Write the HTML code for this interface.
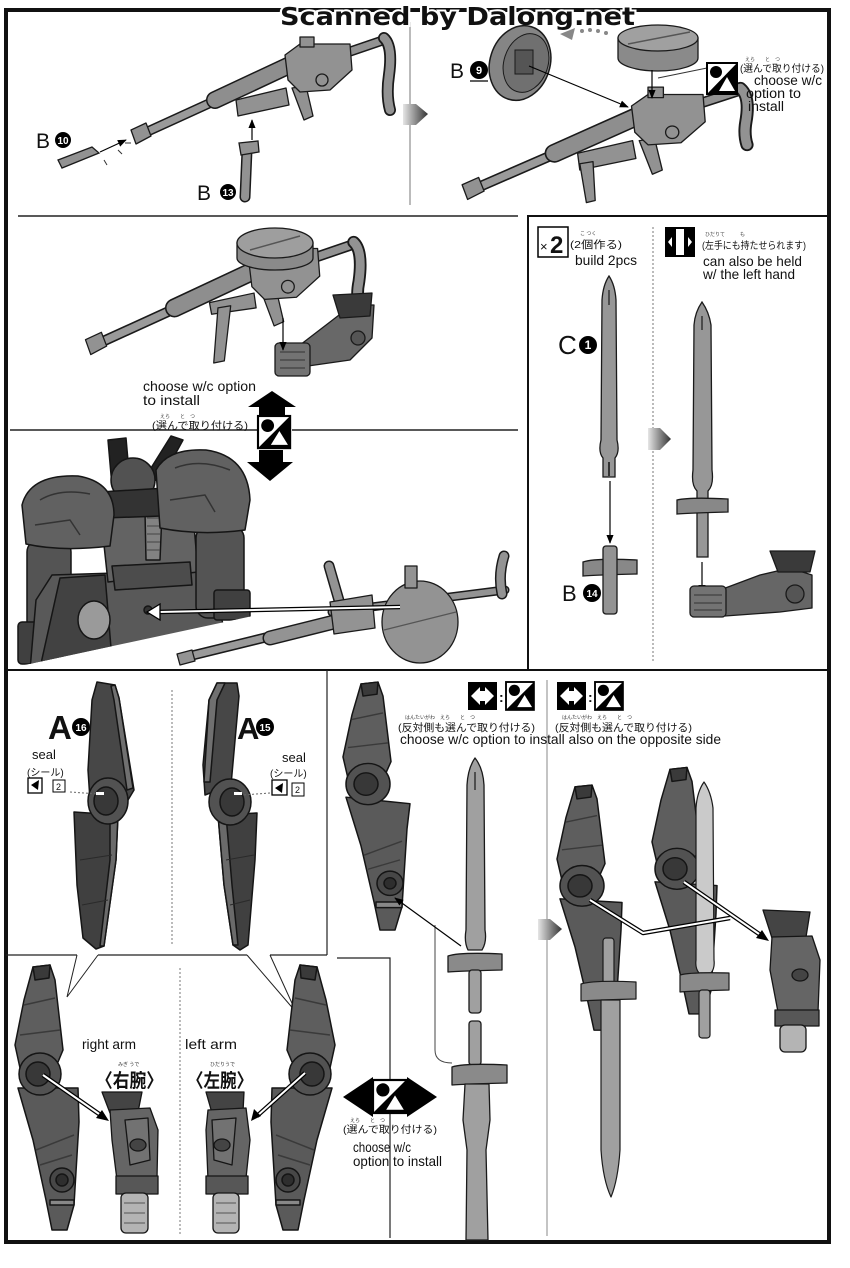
<!DOCTYPE html>
<html><head><meta charset="utf-8"><style>
html,body{margin:0;padding:0;background:#fff;}
svg{display:block;}
text{font-family:"Liberation Sans","Noto Sans CJK JP",sans-serif;fill:#111;}
</style></head><body>
<svg width="850" height="1268" viewBox="0 0 850 1268" xmlns="http://www.w3.org/2000/svg">
<defs>
<linearGradient id="ga" x1="0" x2="1" y1="0" y2="0"><stop offset="0" stop-color="#e6e6e6"/><stop offset="1" stop-color="#333"/></linearGradient>
<marker id="ah" viewBox="0 0 10 10" refX="9" refY="5" markerUnits="userSpaceOnUse" markerWidth="9" markerHeight="9" orient="auto"><path d="M0,1 L10,5 L0,9 Z" fill="#000"/></marker>
<clipPath id="rc"><polygon points="0,432 262,432 262,614 20,666 0,666"/></clipPath>
</defs>
<rect width="850" height="1268" fill="#fff"/>

<!-- ===== frame ===== -->
<rect x="6" y="10" width="823" height="1232" fill="none" stroke="#111" stroke-width="4"/>
<line x1="410" y1="22" x2="410" y2="205" stroke="#777" stroke-width="1"/>
<line x1="18" y1="216" x2="518" y2="216" stroke="#222" stroke-width="1.5"/>
<path d="M528,670 L528,216 L829,216" fill="none" stroke="#111" stroke-width="2"/>
<line x1="10" y1="430" x2="258" y2="430" stroke="#222" stroke-width="1.5"/>
<line x1="292" y1="430" x2="518" y2="430" stroke="#222" stroke-width="1.5"/>
<line x1="653" y1="227" x2="653" y2="661" stroke="#777" stroke-width="1" stroke-dasharray="2,2"/>
<line x1="6" y1="670" x2="829" y2="670" stroke="#111" stroke-width="2"/>

<!-- bottom dividers -->
<line x1="327" y1="670" x2="327" y2="955" stroke="#222" stroke-width="1.2"/>
<path d="M6,955 L77,955 M98,955 L247,955 M270,955 L327,955 M337,958 L390,958 L390,1238" fill="none" stroke="#222" stroke-width="1.2"/>
<path d="M77,955 L67,997 L98,955 M247,955 L296,1012 L270,955" fill="none" stroke="#222" stroke-width="1"/>
<line x1="172" y1="690" x2="172" y2="945" stroke="#777" stroke-width="1" stroke-dasharray="2,2"/>
<line x1="180" y1="968" x2="180" y2="1235" stroke="#777" stroke-width="1" stroke-dasharray="2,2"/>
<line x1="547" y1="680" x2="547" y2="1236" stroke="#888" stroke-width="1"/>
<path d="M435,925 L435,1050 Q435,1063 452,1063" fill="none" stroke="#444" stroke-width="1"/>

<!-- watermark -->
<text x="280" y="25" font-weight="bold" font-size="25" textLength="355" lengthAdjust="spacingAndGlyphs" stroke="#fff" stroke-width="4" paint-order="stroke" style="font-family:'DejaVu Sans',sans-serif">Scanned by Dalong.net</text>

<!-- ===== TOP LEFT rifle ===== -->
<g stroke="#1a1a1a" stroke-width="1.3" stroke-linejoin="round" fill="#929292">
 <path d="M140,135 L300,62" stroke="#1a1a1a" stroke-width="10" stroke-linecap="round" fill="none"/>
 <path d="M140,135 L300,62" stroke="#9a9a9a" stroke-width="7" stroke-linecap="round" fill="none"/>
 <path d="M215,100 L292,64" stroke="#1a1a1a" stroke-width="18" stroke-linecap="round" fill="none"/>
 <path d="M215,100 L292,64" stroke="#8e8e8e" stroke-width="15" stroke-linecap="round" fill="none"/>
 <polygon points="131,130 146,123 151,136 136,144"/>
 <polygon points="236,100 286,88 289,105 238,116"/>
 <polygon points="292,88 306,86 313,116 304,120"/>
 <path d="M340,55 L384,40" stroke="#1a1a1a" stroke-width="10" stroke-linecap="round" fill="none"/>
 <path d="M340,55 L384,40" stroke="#929292" stroke-width="7" stroke-linecap="round" fill="none"/>
 <path d="M384,38 Q393,46 389,75 Q386,95 390,110" stroke="#1a1a1a" stroke-width="12" stroke-linecap="round" fill="none"/>
 <path d="M384,38 Q393,46 389,75 Q386,95 390,110" stroke="#929292" stroke-width="8.5" stroke-linecap="round" fill="none"/>
 <polygon points="285,55 300,44 350,44 352,70 330,90 300,92 288,80"/>
 <rect x="300" y="37" width="14" height="10"/>
 <circle cx="322" cy="80" r="6"/>
</g>
<!-- B10 -->
<text x="36" y="148" font-size="21">B</text>
<circle cx="63" cy="140" r="8" fill="#000"/><text x="63" y="144" font-size="10" font-weight="bold" text-anchor="middle" style="fill:#fff">10</text>
<polygon points="58,160 92,147 99,153 62,168" fill="#929292" stroke="#1a1a1a" stroke-width="1.3"/>
<line x1="100" y1="152" x2="126" y2="140" stroke="#000" stroke-width="1.2" marker-end="url(#ah)"/>
<path d="M118,150 l4,4 M125,143 l6,0 M104,160 l3,5" stroke="#333" stroke-width="1"/>
<!-- B13 -->
<path d="M247,150 L245,197" stroke="#1a1a1a" stroke-width="11" stroke-linecap="round"/>
<path d="M247,150 L245,197" stroke="#929292" stroke-width="8" stroke-linecap="round"/>
<polygon points="239,143 258,141 259,152 241,155" fill="#929292" stroke="#1a1a1a" stroke-width="1.3"/>
<line x1="252" y1="140" x2="252" y2="120" stroke="#000" stroke-width="1.2" marker-end="url(#ah)"/>
<text x="197" y="200" font-size="21">B</text>
<circle cx="228" cy="192" r="8" fill="#000"/><text x="228" y="196" font-size="10" font-weight="bold" text-anchor="middle" style="fill:#fff">13</text>

<!-- step arrow top -->
<polygon points="403,104 416,104 428,114 416,125 403,125" fill="url(#ga)"/>

<!-- ===== TOP RIGHT ===== -->
<g transform="translate(472,190) scale(1.1,1.05) translate(-140,-135)">
 <g stroke="#1a1a1a" stroke-width="1.2" stroke-linejoin="round" fill="#929292">
 <path d="M140,135 L300,62" stroke="#1a1a1a" stroke-width="10" stroke-linecap="round" fill="none"/>
 <path d="M140,135 L300,62" stroke="#9a9a9a" stroke-width="7" stroke-linecap="round" fill="none"/>
 <path d="M215,100 L292,64" stroke="#1a1a1a" stroke-width="18" stroke-linecap="round" fill="none"/>
 <path d="M215,100 L292,64" stroke="#8e8e8e" stroke-width="15" stroke-linecap="round" fill="none"/>
 <polygon points="131,130 146,123 151,136 136,144"/>
 <polygon points="236,100 286,88 289,105 238,116"/>
 <polygon points="238,110 250,108 252,145 244,147"/>
 <polygon points="292,88 306,86 313,116 304,120"/>
 <path d="M340,55 L384,40" stroke="#1a1a1a" stroke-width="10" stroke-linecap="round" fill="none"/>
 <path d="M340,55 L384,40" stroke="#929292" stroke-width="7" stroke-linecap="round" fill="none"/>
 <path d="M384,38 Q393,46 389,70 Q387,82 390,92" stroke="#1a1a1a" stroke-width="12" stroke-linecap="round" fill="none"/>
 <path d="M384,38 Q393,46 389,70 Q387,82 390,92" stroke="#929292" stroke-width="8.5" stroke-linecap="round" fill="none"/>
 <polygon points="285,55 300,44 350,44 352,70 330,90 300,92 288,80"/>
 <rect x="300" y="37" width="14" height="10"/>
 <circle cx="322" cy="80" r="6"/>
 </g>
</g>
<!-- disc B9 -->
<ellipse cx="520" cy="63" rx="30" ry="38" fill="#858585" stroke="#1a1a1a" stroke-width="1.5" transform="rotate(18 520 63)"/>
<ellipse cx="526" cy="63" rx="22" ry="30" fill="#707070" stroke="#1a1a1a" stroke-width="1" transform="rotate(18 526 63)"/>
<rect x="515" y="50" width="18" height="24" fill="#555" stroke="#1a1a1a"/>
<line x1="529" y1="66" x2="628" y2="107" stroke="#000" stroke-width="1.2" marker-end="url(#ah)"/>
<text x="450" y="78" font-size="21">B</text>
<circle cx="479" cy="70" r="9" fill="#000"/><text x="479" y="74" font-size="11" font-weight="bold" text-anchor="middle" style="fill:#fff">9</text>
<line x1="470" y1="81" x2="488" y2="81" stroke="#000" stroke-width="1.2"/>
<!-- dotted arc -->
<polygon points="560,34 575,28 572,40" fill="#888"/>
<circle cx="582" cy="31" r="2" fill="#888"/><circle cx="590" cy="30" r="2" fill="#888"/><circle cx="598" cy="31" r="2" fill="#888"/><circle cx="606" cy="33" r="2" fill="#888"/>
<!-- cylinder -->
<path d="M618,38 L618,58 A40,13 0 0 0 698,58 L698,38 Z" fill="#8a8a8a" stroke="#1a1a1a" stroke-width="1.3"/>
<ellipse cx="658" cy="38" rx="40" ry="13" fill="#a0a0a0" stroke="#1a1a1a" stroke-width="1.3"/>
<line x1="628" y1="44" x2="690" y2="32" stroke="#555" stroke-width="1.5"/>
<line x1="652" y1="70" x2="652" y2="98" stroke="#000" stroke-width="1.2" marker-end="url(#ah)"/>
<line x1="707" y1="68" x2="658" y2="78" stroke="#333" stroke-width="1"/>
<!-- choose icon top right -->
<g transform="translate(707,63)"><rect x="0" y="0" width="30" height="31" fill="#fff" stroke="#000" stroke-width="2"/><polygon points="30,0 30,31 0,31" fill="#000"/><polygon points="20,14 28,28 12,28" fill="#fff"/><circle cx="9" cy="9" r="6" fill="#000"/></g>
<text x="740" y="72" font-size="10" textLength="84" lengthAdjust="spacingAndGlyphs">(選んで取り付ける)</text>
<text x="745" y="61" font-size="5" style="fill:#444">えら　　と　つ</text>
<text x="754" y="85" font-size="13.5" textLength="68" lengthAdjust="spacingAndGlyphs">choose w/c</text>
<text x="746" y="98" font-size="13.5" textLength="55" lengthAdjust="spacingAndGlyphs">option to</text>
<text x="748" y="111" font-size="13.5" textLength="36" lengthAdjust="spacingAndGlyphs">install</text>

<!-- ===== MIDDLE LEFT TOP ===== -->
<g transform="translate(95,345) scale(1.06) translate(-140,-135)">
 <g stroke="#1a1a1a" stroke-width="1.2" stroke-linejoin="round" fill="#929292">
 <path d="M140,135 L300,62" stroke="#1a1a1a" stroke-width="10" stroke-linecap="round" fill="none"/>
 <path d="M140,135 L300,62" stroke="#9a9a9a" stroke-width="7" stroke-linecap="round" fill="none"/>
 <path d="M215,100 L292,64" stroke="#1a1a1a" stroke-width="18" stroke-linecap="round" fill="none"/>
 <path d="M215,100 L292,64" stroke="#8e8e8e" stroke-width="15" stroke-linecap="round" fill="none"/>
 <polygon points="131,130 146,123 151,136 136,144"/>
 <polygon points="248,95 290,86 292,100 250,106"/>
 <polygon points="256,100 268,98 262,150 252,152"/>
 <polygon points="297,85 311,83 318,113 309,117"/>
 <path d="M340,55 L384,40" stroke="#1a1a1a" stroke-width="10" stroke-linecap="round" fill="none"/>
 <path d="M340,55 L384,40" stroke="#929292" stroke-width="7" stroke-linecap="round" fill="none"/>
 <path d="M384,38 Q393,46 389,75 Q386,90 390,100" stroke="#1a1a1a" stroke-width="12" stroke-linecap="round" fill="none"/>
 <path d="M384,38 Q393,46 389,75 Q386,90 390,100" stroke="#929292" stroke-width="8.5" stroke-linecap="round" fill="none"/>
 <polygon points="285,55 300,44 350,44 352,70 330,90 300,92 288,80"/>
 <circle cx="322" cy="80" r="6"/>
 </g>
</g>
<path d="M237,243 L237,258 A38,12 0 0 0 313,258 L313,243 Z" fill="#8a8a8a" stroke="#1a1a1a" stroke-width="1.3"/>
<ellipse cx="275" cy="243" rx="38" ry="15" fill="#9e9e9e" stroke="#1a1a1a" stroke-width="1.3"/>
<line x1="250" y1="250" x2="300" y2="236" stroke="#555" stroke-width="1.5"/>
<!-- hand -->
<g stroke="#1a1a1a" stroke-width="1.3" stroke-linejoin="round">
 <polygon points="300,345 330,322 352,305 374,305 372,338 350,360 308,366" fill="#686868"/>
 <polygon points="333,295 372,293 370,316 340,318" fill="#3a3a3a"/>
 <rect x="275" y="343" width="35" height="33" rx="4" fill="#737373"/>
 <path d="M280,352 h25 M280,360 h25 M280,368 h25" stroke="#333" stroke-width="1"/>
 <circle cx="358" cy="338" r="7" fill="#555"/>
</g>
<line x1="283" y1="318" x2="283" y2="350" stroke="#000" stroke-width="1.2" marker-end="url(#ah)"/>
<text x="143" y="391" font-size="14" textLength="113" lengthAdjust="spacingAndGlyphs">choose w/c option</text>
<text x="143" y="405" font-size="14" textLength="57" lengthAdjust="spacingAndGlyphs">to install</text>
<text x="160" y="418" font-size="5" style="fill:#444">えら　　と　つ</text>
<text x="152" y="429" font-size="10.5" textLength="96" lengthAdjust="spacingAndGlyphs">(選んで取り付ける)</text>
<!-- big up/down arrows -->
<polygon points="272,391 296,407 285,407 285,418 259,418 259,407 248,407" fill="#000"/>
<g transform="translate(258,416) scale(1.07)"><rect x="0" y="0" width="30" height="30" fill="#fff" stroke="#000" stroke-width="2"/><polygon points="30,0 30,30 0,30" fill="#000"/><polygon points="20,14 28,27 12,27" fill="#fff"/><circle cx="9" cy="9" r="6" fill="#000"/></g>
<polygon points="259,450 283,450 283,462 293,462 270,481 247,462 259,462" fill="#000"/>

<!-- ===== MIDDLE LEFT LOWER : robot ===== -->
<g clip-path="url(#rc)" stroke="#151515" stroke-width="1.5" stroke-linejoin="round">
 <polygon points="108,440 126,438 130,484 112,486" fill="#222"/>
 <polygon points="146,476 171,436 183,440 160,482" fill="#222"/>
 <ellipse cx="133" cy="480" rx="22" ry="22" fill="#525252"/>
 <rect x="27" y="540" width="44" height="96" rx="12" fill="#545454"/>
 <rect x="18" y="622" width="45" height="42" rx="4" fill="#404040"/>
 <polygon points="52,575 212,570 226,640 30,670 36,600" fill="#595959"/>
 <polygon points="60,578 105,575 112,660 40,668" fill="#424242"/>
 <polygon points="100,508 192,502 198,572 108,582" fill="#636363"/>
 <polygon points="145,512 162,512 160,560 146,560" fill="#828282"/>
 <path d="M147,518 h13 M147,526 h13 M147,534 h13 M147,542 h13 M147,550 h13" stroke="#444" stroke-width="1"/>
 <polygon points="100,492 166,488 162,516 104,518" fill="#333"/>
 <rect x="196" y="526" width="48" height="92" rx="12" fill="#545454"/>
 <rect x="214" y="590" width="36" height="30" rx="3" fill="#404040"/>
 <path d="M22,505 Q30,474 78,476 Q114,482 114,515 L110,546 Q62,552 26,544 Z" fill="#616161"/>
 <path d="M40,500 Q60,488 90,494 M35,525 L70,520 L80,535" fill="none" stroke="#333" stroke-width="1.5"/>
 <path d="M156,470 Q168,448 206,450 Q248,456 250,500 L245,530 Q200,536 160,528 Z" fill="#616161"/>
 <path d="M175,468 Q200,458 230,470 M170,500 L205,495 L215,512" fill="none" stroke="#333" stroke-width="1.5"/>
 <ellipse cx="94" cy="620" rx="16" ry="19" fill="#9a9a9a"/>
 <polygon points="112,566 190,562 192,585 115,590" fill="#4c4c4c"/>
 <circle cx="148" cy="610" r="4" fill="#333"/>
</g>
<!-- side rifle -->
<g stroke="#1a1a1a" stroke-width="1.3" stroke-linejoin="round" fill="#939393">
 <path d="M186,657 L345,618" stroke="#1a1a1a" stroke-width="10" stroke-linecap="round" fill="none"/>
 <path d="M186,657 L345,618" stroke="#9a9a9a" stroke-width="7" stroke-linecap="round" fill="none"/>
 <path d="M270,638 L350,618" stroke="#1a1a1a" stroke-width="15" stroke-linecap="round" fill="none"/>
 <path d="M270,638 L350,618" stroke="#939393" stroke-width="12" stroke-linecap="round" fill="none"/>
 <polygon points="177,654 192,650 195,661 180,665"/>
 <path d="M332,612 L505,590" stroke="#1a1a1a" stroke-width="9" stroke-linecap="round" fill="none"/>
 <path d="M332,612 L505,590" stroke="#939393" stroke-width="6" stroke-linecap="round" fill="none"/>
 <path d="M502,594 Q498,575 504,556" stroke="#1a1a1a" stroke-width="11" stroke-linecap="round" fill="none"/>
 <path d="M502,594 Q498,575 504,556" stroke="#939393" stroke-width="8" stroke-linecap="round" fill="none"/>
 <path d="M340,604 L329,566" stroke="#1a1a1a" stroke-width="11" stroke-linecap="round" fill="none"/>
 <path d="M340,604 L329,566" stroke="#939393" stroke-width="8" stroke-linecap="round" fill="none"/>
 <polygon points="330,602 372,595 375,628 334,634"/>
 <ellipse cx="420" cy="622" rx="38" ry="41"/>
 <rect x="405" y="566" width="12" height="22"/>
 <line x1="384" y1="630" x2="456" y2="612" stroke="#555"/>
</g>
<path d="M400,607 L158,612" stroke="#000" stroke-width="4.5" fill="none"/>
<path d="M400,607 L158,612" stroke="#fff" stroke-width="2" fill="none"/>
<polygon points="147,612 160,604 160,620" fill="#fff" stroke="#000" stroke-width="1.3"/>

<!-- ===== RIGHT BOX ===== -->
<rect x="538" y="227" width="30" height="30" fill="#fff" stroke="#000" stroke-width="1.5"/>
<text x="540" y="251" font-size="13">×</text>
<text x="550" y="253" font-size="24" font-weight="bold">2</text>
<text x="580" y="235" font-size="5" style="fill:#444">こ つく</text>
<text x="570" y="248" font-size="10.5" textLength="52" lengthAdjust="spacingAndGlyphs">(2個作る)</text>
<text x="575" y="265" font-size="14" textLength="62" lengthAdjust="spacingAndGlyphs">build 2pcs</text>
<!-- sword C1 -->
<path d="M609,276 Q603,285 602,300 L601,440 Q598,452 603,458 L603,477 L615,477 L615,458 Q620,452 617,440 L616,300 Q615,285 609,276 Z" fill="#979797" stroke="#1a1a1a" stroke-width="1.3"/>
<line x1="609" y1="290" x2="609" y2="305" stroke="#333" stroke-width="1.5"/>
<line x1="609" y1="462" x2="609" y2="476" stroke="#333" stroke-width="2"/>
<text x="558" y="354" font-size="26">C</text>
<circle cx="588" cy="345" r="9" fill="#000"/><text x="588" y="349" font-size="12" font-weight="bold" text-anchor="middle" style="fill:#fff">1</text>
<line x1="610" y1="481" x2="610" y2="543" stroke="#000" stroke-width="1.2" marker-end="url(#ah)"/>
<!-- B14 -->
<path d="M583,562 Q595,558 637,560 L637,574 Q595,575 583,576 Z" fill="#888" stroke="#1a1a1a" stroke-width="1.3"/>
<rect x="603" y="546" width="14" height="68" rx="3" fill="#939393" stroke="#1a1a1a" stroke-width="1.3"/>
<text x="562" y="601" font-size="22">B</text>
<circle cx="592" cy="593" r="9" fill="#000"/><text x="592" y="597" font-size="10" font-weight="bold" text-anchor="middle" style="fill:#fff">14</text>
<polygon points="648,428 660,428 671,439 660,450 648,450" fill="url(#ga)"/>
<!-- left hand icon -->
<rect x="665" y="227" width="30" height="30" fill="#000"/>
<rect x="676" y="229" width="8" height="26" fill="#fff"/>
<polygon points="668,242 672,237 672,247" fill="#fff"/><polygon points="692,242 688,237 688,247" fill="#fff"/>
<text x="705" y="236" font-size="5" style="fill:#444">ひだりて　　　も</text>
<text x="702" y="249" font-size="10" textLength="104" lengthAdjust="spacingAndGlyphs">(左手にも持たせられます)</text>
<text x="703" y="266" font-size="14" textLength="99" lengthAdjust="spacingAndGlyphs">can also be held</text>
<text x="703" y="279" font-size="14" textLength="92" lengthAdjust="spacingAndGlyphs">w/ the left hand</text>
<!-- assembled sword -->
<path d="M702,302 Q695,312 694,325 L693,470 Q691,485 697,491 L697,557 L708,557 L708,491 Q714,485 712,470 L711,325 Q709,312 702,302 Z" fill="#979797" stroke="#1a1a1a" stroke-width="1.3"/>
<line x1="702" y1="316" x2="702" y2="330" stroke="#333" stroke-width="1.5"/>
<path d="M677,500 Q690,497 728,499 L728,512 Q690,513 677,514 Z" fill="#888" stroke="#1a1a1a" stroke-width="1.3"/>
<line x1="702" y1="562" x2="702" y2="593" stroke="#000" stroke-width="1.2" marker-end="url(#ah)"/>
<g stroke="#1a1a1a" stroke-width="1.3" stroke-linejoin="round">
 <polygon points="720,590 760,575 790,568 812,575 812,608 780,612 725,616" fill="#666"/>
 <polygon points="770,551 815,551 810,572 778,572" fill="#3a3a3a"/>
 <circle cx="795" cy="594" r="9" fill="#555"/>
 <rect x="690" y="586" width="36" height="31" rx="4" fill="#737373"/>
 <path d="M694,595 h28 M694,603 h28 M694,610 h28" stroke="#333" stroke-width="1"/>
</g>

<!-- ===== BOTTOM LEFT UPPER : A16 / A15 ===== -->
<g stroke="#151515" stroke-width="1.5" stroke-linejoin="round">
 <path d="M97,682 L115,685 L119,698 L134,790 L128,800 L90,800 L88,770 L92,700 Z" fill="#474747"/>
 <path d="M111,686 L115,685 L119,698 L133,788 L127,790 L114,700 Z" fill="#707070"/>
 <path d="M74,812 L118,815 L116,860 L104,946 L96,949 L83,938 L77,885 Z" fill="#404040"/>
 <path d="M110,815 L118,815 L116,860 L104,946 L100,946 L110,860 Z" fill="#6a6a6a"/>
 <path d="M80,860 L112,855 M82,905 L108,900" stroke="#2a2a2a" stroke-width="1"/>
 <ellipse cx="108" cy="801" rx="20" ry="23" fill="#525252"/>
 <ellipse cx="106" cy="801" rx="12" ry="14" fill="#383838"/>
</g>
<rect x="96" y="792" width="8" height="3" fill="#fff"/>
<g stroke="#151515" stroke-width="1.5" stroke-linejoin="round">
 <path d="M217,683 L237,683 L239,696 L231,785 L205,795 L203,765 L209,700 Z" fill="#474747"/>
 <path d="M217,683 L225,683 L217,700 L210,782 L204,782 L209,700 Z" fill="#707070"/>
 <path d="M218,815 L257,813 L255,860 L248,945 L240,950 L233,945 L224,885 Z" fill="#404040"/>
 <path d="M218,815 L226,815 L232,885 L238,945 L233,945 L224,885 Z" fill="#6a6a6a"/>
 <path d="M226,860 L254,855 M230,905 L250,900" stroke="#2a2a2a" stroke-width="1"/>
 <ellipse cx="230" cy="802" rx="21" ry="23" fill="#525252"/>
 <ellipse cx="232" cy="802" rx="12" ry="14" fill="#383838"/>
</g>
<rect x="234" y="792" width="8" height="3" fill="#fff"/>
<text x="48" y="739" font-size="33" font-weight="bold">A</text>
<circle cx="81" cy="727" r="9" fill="#000"/><text x="81" y="731" font-size="10" font-weight="bold" text-anchor="middle" style="fill:#fff">16</text>
<text x="237" y="739" font-size="31" font-weight="bold">A</text>
<circle cx="265" cy="727" r="9" fill="#000"/><text x="265" y="731" font-size="10" font-weight="bold" text-anchor="middle" style="fill:#fff">15</text>
<text x="32" y="759" font-size="13">seal</text>
<text x="27" y="776" font-size="10">(シール)</text>
<rect x="28" y="778" width="14" height="15" fill="#fff" stroke="#000" stroke-width="1.3"/><polygon points="31,785 39,780 38,790" fill="#000"/>
<rect x="53" y="780" width="12" height="12" fill="#fff" stroke="#000" stroke-width="1"/><text x="56" y="790" font-size="9">2</text>
<line x1="70" y1="792" x2="98" y2="794" stroke="#666" stroke-width="1" stroke-dasharray="2,2"/>
<text x="282" y="762" font-size="13">seal</text>
<text x="270" y="777" font-size="10">(シール)</text>
<rect x="272" y="780" width="15" height="15" fill="#fff" stroke="#000" stroke-width="1.3"/><polygon points="275,788 283,783 282,793" fill="#000"/>
<rect x="292" y="783" width="12" height="13" fill="#fff" stroke="#000" stroke-width="1"/><text x="295" y="793" font-size="9">2</text>
<line x1="270" y1="793" x2="243" y2="795" stroke="#666" stroke-width="1" stroke-dasharray="2,2"/>

<!-- ===== BOTTOM LEFT LOWER ===== -->
<g stroke="#151515" stroke-width="1.5" stroke-linejoin="round">
 <path d="M33,967 L50,965 L55,980 L63,1050 L58,1062 L20,1068 L15,1045 L24,1000 Z" fill="#5e5e5e"/>
 <path d="M33,967 L50,965 L49,978 L35,980 Z" fill="#3a3a3a"/>
 <path d="M24,1005 L55,998 M20,1035 L60,1030" stroke="#3a3a3a" stroke-width="1.5"/>
 <path d="M18,1088 L78,1088 L79,1122 L74,1205 L67,1230 L52,1230 L46,1200 L33,1140 Z" fill="#5a5a5a"/>
 <path d="M36,1150 L74,1135 M40,1165 L72,1155" stroke="#3a3a3a" stroke-width="1.5"/>
 <circle cx="40" cy="1074" r="21" fill="#525252"/>
 <circle cx="38" cy="1074" r="12" fill="#383838"/>
 <circle cx="62" cy="1180" r="12" fill="#474747"/>
 <circle cx="62" cy="1180" r="6" fill="#2e2e2e"/>
 <rect x="50" y="1200" width="24" height="5" fill="#888"/>
</g>
<g transform="translate(350,0) scale(-1,1)" stroke="#151515" stroke-width="1.5" stroke-linejoin="round">
 <path d="M33,967 L50,965 L55,980 L63,1050 L58,1062 L20,1068 L15,1045 L24,1000 Z" fill="#5e5e5e"/>
 <path d="M33,967 L50,965 L49,978 L35,980 Z" fill="#3a3a3a"/>
 <path d="M24,1005 L55,998 M20,1035 L60,1030" stroke="#3a3a3a" stroke-width="1.5"/>
 <path d="M18,1088 L78,1088 L79,1122 L74,1205 L67,1230 L52,1230 L46,1200 L33,1140 Z" fill="#5a5a5a"/>
 <path d="M36,1150 L74,1135 M40,1165 L72,1155" stroke="#3a3a3a" stroke-width="1.5"/>
 <circle cx="40" cy="1074" r="21" fill="#525252"/>
 <circle cx="38" cy="1074" r="12" fill="#383838"/>
 <circle cx="62" cy="1180" r="12" fill="#474747"/>
 <circle cx="62" cy="1180" r="6" fill="#2e2e2e"/>
 <rect x="50" y="1200" width="24" height="5" fill="#888"/>
</g>
<!-- arm pieces -->
<g stroke="#151515" stroke-width="1.3" stroke-linejoin="round">
 <polygon points="102,1092 142,1092 138,1112 110,1113" fill="#444"/>
 <path d="M110,1110 L150,1108 L158,1130 L157,1178 L117,1180 L112,1140 Z" fill="#656565"/>
 <polygon points="125,1120 148,1118 150,1160 130,1165" fill="#727272"/>
 <ellipse cx="138" cy="1145" rx="8" ry="6" fill="#444"/>
 <rect x="116" y="1176" width="42" height="18" fill="#575757"/>
 <rect x="121" y="1193" width="27" height="40" rx="5" fill="#b4b4b4"/>
 <path d="M124,1203 h21 M124,1213 h21 M124,1223 h21" stroke="#555" stroke-width="1"/>
 <polygon points="206,1092 244,1092 243,1112 212,1113" fill="#444"/>
 <path d="M208,1110 L246,1108 L250,1140 L246,1178 L208,1180 L206,1130 Z" fill="#656565"/>
 <polygon points="212,1120 236,1118 232,1165 214,1160" fill="#727272"/>
 <ellipse cx="222" cy="1145" rx="8" ry="6" fill="#444"/>
 <rect x="206" y="1176" width="42" height="18" fill="#575757"/>
 <rect x="213" y="1193" width="26" height="40" rx="5" fill="#b4b4b4"/>
 <path d="M216,1203 h20 M216,1213 h20 M216,1223 h20" stroke="#555" stroke-width="1"/>
</g>
<path d="M43,1075 L102,1116" stroke="#000" stroke-width="4.5"/><path d="M43,1075 L102,1116" stroke="#fff" stroke-width="2"/>
<polygon points="109,1121 96,1118 102,1110" fill="#000"/>
<path d="M305,1073 L257,1116" stroke="#000" stroke-width="4.5"/><path d="M305,1073 L257,1116" stroke="#fff" stroke-width="2"/>
<polygon points="251,1121 254,1109 261,1116" fill="#000"/>
<text x="82" y="1049" font-size="14" textLength="54" lengthAdjust="spacingAndGlyphs">right arm</text>
<text x="118" y="1066" font-size="5" style="fill:#333">みぎ うで</text>
<text x="96" y="1087" font-size="19" font-weight="bold" textLength="67" lengthAdjust="spacingAndGlyphs">〈右腕〉</text>
<text x="185" y="1049" font-size="14" textLength="52" lengthAdjust="spacingAndGlyphs">left arm</text>
<text x="210" y="1066" font-size="5" style="fill:#333">ひだりうで</text>
<text x="187" y="1087" font-size="19" font-weight="bold" textLength="66" lengthAdjust="spacingAndGlyphs">〈左腕〉</text>
<!-- double arrow -->
<polygon points="343,1097 373,1077 373,1117" fill="#000"/>
<polygon points="437,1097 407,1077 407,1117" fill="#000"/>
<g transform="translate(373,1080) scale(1.1)"><rect x="0" y="0" width="30" height="30" fill="#fff" stroke="#000" stroke-width="2"/><polygon points="30,0 30,30 0,30" fill="#000"/><polygon points="20,14 28,27 12,27" fill="#fff"/><circle cx="9" cy="9" r="6" fill="#000"/></g>
<text x="350" y="1122" font-size="5" style="fill:#333">えら　　と　つ</text>
<text x="343" y="1133" font-size="10" textLength="94" lengthAdjust="spacingAndGlyphs">(選んで取り付ける)</text>
<text x="353" y="1152" font-size="14" textLength="58" lengthAdjust="spacingAndGlyphs">choose w/c</text>
<text x="353" y="1166" font-size="14" textLength="89" lengthAdjust="spacingAndGlyphs">option to install</text>

<!-- ===== BOTTOM MIDDLE ===== -->
<g transform="translate(328,-221.2) scale(1,0.936)" stroke="#151515" stroke-width="1.5" stroke-linejoin="round">
 <path d="M33,967 L50,965 L55,980 L63,1050 L58,1062 L20,1068 L15,1045 L24,1000 Z" fill="#5e5e5e"/>
 <path d="M33,967 L50,965 L49,978 L35,980 Z" fill="#3a3a3a"/>
 <path d="M24,1005 L55,998 M20,1035 L60,1030" stroke="#3a3a3a" stroke-width="1.5"/>
 <path d="M18,1088 L82,1095 L79,1122 L74,1205 L67,1230 L52,1230 L46,1200 L33,1140 Z" fill="#5a5a5a"/>
 <path d="M36,1150 L74,1135 M40,1165 L72,1155" stroke="#3a3a3a" stroke-width="1.5"/>
 <circle cx="40" cy="1074" r="22" fill="#525252"/>
 <circle cx="38" cy="1074" r="12" fill="#383838"/>
 <circle cx="62" cy="1180" r="13" fill="#474747"/>
 <circle cx="62" cy="1180" r="6" fill="#2e2e2e"/>
 <rect x="48" y="1200" width="26" height="6" fill="#888"/>
</g>
<!-- opposite icons -->
<g transform="translate(468,682)"><rect x="0" y="0" width="29" height="28" fill="#000"/><polygon points="3,14 12,5 12,23" fill="#fff"/><polygon points="26,14 17,5 17,23" fill="#fff"/><rect x="12" y="9" width="5" height="10" fill="#fff"/></g>
<text x="499" y="702" font-size="14" font-weight="bold">:</text>
<g transform="translate(506,682) scale(0.93)"><rect x="0" y="0" width="30" height="30" fill="#fff" stroke="#000" stroke-width="2"/><polygon points="30,0 30,30 0,30" fill="#000"/><polygon points="20,14 28,27 12,27" fill="#fff"/><circle cx="9" cy="9" r="6" fill="#000"/></g>
<g transform="translate(557,682)"><rect x="0" y="0" width="29" height="28" fill="#000"/><polygon points="3,14 12,5 12,23" fill="#fff"/><polygon points="26,14 17,5 17,23" fill="#fff"/><rect x="12" y="9" width="5" height="10" fill="#fff"/></g>
<text x="588" y="702" font-size="14" font-weight="bold">:</text>
<g transform="translate(595,682) scale(0.93)"><rect x="0" y="0" width="30" height="30" fill="#fff" stroke="#000" stroke-width="2"/><polygon points="30,0 30,30 0,30" fill="#000"/><polygon points="20,14 28,27 12,27" fill="#fff"/><circle cx="9" cy="9" r="6" fill="#000"/></g>
<text x="405" y="719" font-size="5" style="fill:#333">はんたいがわ　えら　　と　つ</text>
<text x="398" y="731" font-size="10.5" textLength="137" lengthAdjust="spacingAndGlyphs">(反対側も選んで取り付ける)</text>
<text x="562" y="719" font-size="5" style="fill:#333">はんたいがわ　えら　　と　つ</text>
<text x="555" y="731" font-size="10.5" textLength="137" lengthAdjust="spacingAndGlyphs">(反対側も選んで取り付ける)</text>
<text x="400" y="744" font-size="14" textLength="321" lengthAdjust="spacingAndGlyphs">choose w/c option  to install also on the opposite side</text>
<!-- swords middle -->
<g stroke="#1a1a1a" stroke-width="1.3" stroke-linejoin="round" fill="#a0a0a0">
 <path d="M475,758 Q468,768 467,785 L466,930 Q464,942 468,950 L482,950 Q487,942 485,930 L484,785 Q483,768 475,758 Z"/>
 <path d="M448,956 Q460,952 502,954 L502,970 Q460,971 448,972 Z" fill="#8a8a8a"/>
 <rect x="469" y="970" width="12" height="43" rx="3"/>
 <rect x="469" y="1021" width="12" height="44" rx="3"/>
 <path d="M452,1067 Q465,1063 507,1065 L507,1083 Q465,1084 452,1085 Z" fill="#8a8a8a"/>
 <path d="M465,1084 L489,1084 L490,1120 L486,1150 L488,1240 L466,1240 L467,1150 L463,1120 Z"/>
</g>
<line x1="475" y1="772" x2="475" y2="790" stroke="#333" stroke-width="1.5"/>
<line x1="461" y1="946" x2="395" y2="898" stroke="#000" stroke-width="1.2" marker-end="url(#ah)"/>

<!-- ===== BOTTOM RIGHT ===== -->
<polygon points="538,919 550,919 562,929 550,940 538,940" fill="url(#ga)"/>
<!-- blade 2 (back) -->
<g transform="translate(637,-130) scale(1,0.93)" stroke="#151515" stroke-width="1.5" stroke-linejoin="round">
 <path d="M33,967 L50,965 L55,980 L63,1050 L58,1062 L20,1068 L15,1045 L24,1000 Z" fill="#5e5e5e"/>
 <path d="M33,967 L50,965 L49,978 L35,980 Z" fill="#3a3a3a"/>
 <path d="M18,1088 L80,1092 L79,1122 L74,1205 L67,1230 L52,1230 L46,1200 L33,1140 Z" fill="#5a5a5a"/>
 <circle cx="40" cy="1074" r="22" fill="#525252"/>
 <circle cx="38" cy="1074" r="12" fill="#383838"/>
</g>
<g stroke="#1a1a1a" stroke-width="1.2" stroke-linejoin="round">
 <path d="M704,782 Q697,792 696,808 L696,960 Q695,968 699,973 L711,973 Q715,968 714,960 L713,808 Q711,792 704,782 Z" fill="#cacaca"/>
 <path d="M680,975 Q690,972 729,973 L729,990 Q690,991 680,992 Z" fill="#8a8a8a"/>
 <rect x="699" y="990" width="11" height="48" rx="3" fill="#a0a0a0"/>
</g>
<!-- blade 1 (front) -->
<g transform="translate(542,-107.6) scale(1,0.925)" stroke="#151515" stroke-width="1.5" stroke-linejoin="round">
 <path d="M33,967 L50,965 L55,980 L63,1050 L58,1062 L20,1068 L15,1045 L24,1000 Z" fill="#5e5e5e"/>
 <path d="M33,967 L50,965 L49,978 L35,980 Z" fill="#3a3a3a"/>
 <path d="M24,1005 L55,998 M20,1035 L60,1030" stroke="#3a3a3a" stroke-width="1.5"/>
 <path d="M18,1088 L80,1092 L79,1122 L74,1205 L67,1230 L52,1230 L46,1200 L33,1140 Z" fill="#5a5a5a"/>
 <circle cx="40" cy="1074" r="22" fill="#525252"/>
 <circle cx="38" cy="1074" r="12" fill="#383838"/>
</g>
<g stroke="#1a1a1a" stroke-width="1.2" stroke-linejoin="round" fill="#a0a0a0">
 <rect x="603" y="938" width="11" height="46" rx="3"/>
 <path d="M581,984 Q595,980 636,982 L636,999 Q595,1000 581,1001 Z" fill="#8a8a8a"/>
 <path d="M601,1000 L620,1000 L620,1150 Q618,1180 611,1197 Q603,1180 601,1150 Z"/>
</g>
<!-- arm right -->
<g stroke="#151515" stroke-width="1.3" stroke-linejoin="round">
 <polygon points="763,910 810,912 806,937 772,938" fill="#444"/>
 <path d="M772,937 L812,936 L820,960 L818,1012 L778,1012 L770,970 Z" fill="#656565"/>
 <ellipse cx="800" cy="975" rx="8" ry="6" fill="#444"/>
 <rect x="775" y="1010" width="44" height="16" fill="#575757"/>
 <rect x="780" y="1025" width="26" height="27" rx="5" fill="#b4b4b4"/>
</g>
<path d="M590,900 L643,933 L730,918" fill="none" stroke="#000" stroke-width="4.5" stroke-linejoin="round"/>
<path d="M590,900 L643,933 L730,918" fill="none" stroke="#fff" stroke-width="2" stroke-linejoin="round"/>
<path d="M684,882 L762,936" stroke="#000" stroke-width="4.5"/><path d="M684,882 L762,936" stroke="#fff" stroke-width="2"/>
<polygon points="769,941 756,938 762,930" fill="#000"/>
</svg>
</body></html>
